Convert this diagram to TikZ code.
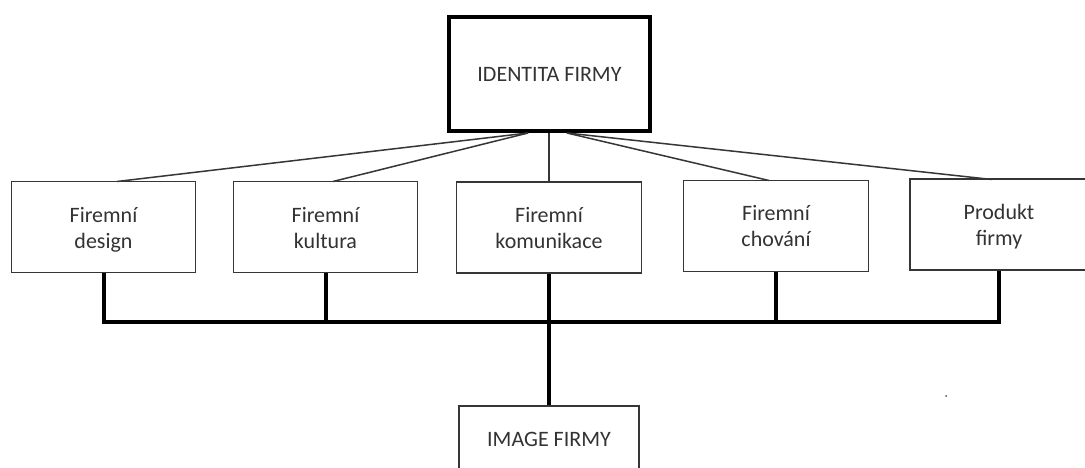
\documentclass[tikz,border=0pt]{standalone}
\usepackage{fontspec}
\setmainfont{Carlito}
\definecolor{txt}{HTML}{333333}
\definecolor{edge}{HTML}{363636}
\newcommand{\twolines}[2]{\rule{0pt}{22pt}#1\\#2\rule[-6pt]{0pt}{6pt}}
\tikzset{
  box/.style={draw=edge, line width=1.6pt, rectangle, inner sep=0pt, align=center,
    text=txt, font=\fontsize{22}{26}\selectfont},
  topbox/.style={box, draw=black, line width=4pt},
  thinline/.style={draw=edge, line width=1.5pt},
  thickline/.style={draw=black, line width=4pt}
}
\begin{document}
\begin{tikzpicture}[x=1pt,y=-1pt]
\useasboundingbox (0,0) rectangle (1085,468);
\clip (0,0) rectangle (1085,468);
\fill[white] (0,0) rectangle (1085,468);

\node[topbox, minimum width=201pt, minimum height=114pt] (top) at (549.5,74) {IDENTITA FIRMY};

\node[box, minimum width=184pt, minimum height=91pt] (b1) at (103.5,227) {\twolines{Firemní}{design}};
\node[box, minimum width=184pt, minimum height=91pt] (b2) at (325.5,227) {\twolines{Firemní}{kultura}};
\node[box, minimum width=185pt, minimum height=91pt] (b3) at (549,227.5) {\twolines{Firemní}{komunikace}};
\node[box, minimum width=185pt, minimum height=91pt] (b4) at (776,226) {\twolines{Firemní}{chování}};
\node[box, minimum width=178pt, minimum height=91pt] (b5) at (999,224.5) {\twolines{Produkt}{firmy}};

\node[box, minimum width=180pt, minimum height=66pt] (img) at (549,439) {IMAGE FIRMY};

% connector end points
\coordinate (tl) at (528,133);
\coordinate (tr) at (567,133);
\coordinate (e1) at (117,181.5);
\coordinate (e2) at (333,181.5);
\coordinate (e4) at (769,180.5);
\coordinate (e5) at (992,179.5);
\coordinate (bus1) at (b1.south |- 0,322);
\coordinate (bus5) at (b5.south |- 0,322);
\coordinate (busc) at (img.north |- 0,322);

\draw[thinline] (tl) -- (e1);
\draw[thinline] (tl) -- (e2);
\draw[thinline] (tr) -- (e4);
\draw[thinline] (tr) -- (e5);
\draw[thinline] (top.south -| b3.north) -- (b3.north);

\draw[thickline] (b1.south) -- (bus1);
\draw[thickline] (b2.south) -- (b2.south |- bus1);
\draw[thickline] (b3.south) -- (busc);
\draw[thickline] (b4.south) -- (b4.south |- bus1);
\draw[thickline] (b5.south) -- (bus5);
\draw[thickline, line cap=rect] (bus1) -- (bus5);
\draw[thickline] (busc) -- (img.north);

\fill[black!70] (946,396) circle (1pt);
\end{tikzpicture}
\end{document}
